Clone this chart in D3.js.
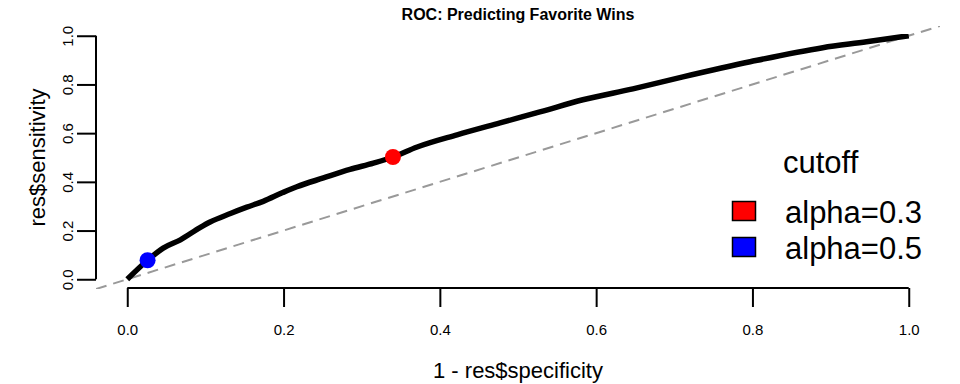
<!DOCTYPE html>
<html>
<head>
<meta charset="utf-8">
<script src="https://cdn.jsdelivr.net/npm/d3@7"></script>
<style>
  body { margin: 0; background: #fff; }
  text { font-family: "Liberation Sans", Arial, Helvetica, sans-serif; fill: #000; }
</style>
</head>
<body>
<div id="chart"></div>
<script>
// ROC curve (1 - specificity, sensitivity)
const fpr = [0, 0.026, 0.046, 0.068, 0.093, 0.106, 0.132, 0.153, 0.174, 0.199, 0.217, 0.251, 0.285, 0.315, 0.340, 0.371, 0.422, 0.477, 0.528, 0.583, 0.647, 0.711, 0.797, 0.890, 0.946, 1];
const tpr = [0, 0.078, 0.128, 0.162, 0.212, 0.235, 0.270, 0.296, 0.320, 0.356, 0.380, 0.416, 0.451, 0.477, 0.502, 0.543, 0.593, 0.642, 0.687, 0.737, 0.782, 0.831, 0.893, 0.951, 0.975, 1];

// Cutoff points
const cutoffLabels = ["alpha=0.3", "alpha=0.5"];
const cutoffFpr = [0.340, 0.026];
const cutoffTpr = [0.502, 0.078];
const cutoffColors = ["#ff0000", "#0000ff"];

const tickValues = [0, 0.2, 0.4, 0.6, 0.8, 1.0];
const axisDomain = [-0.04, 1.04];

const width = 960, height = 384;
const plot = { left: 96, right: 940, top: 26, bottom: 289 };

const svg = d3.select("#chart").append("svg")
    .attr("width", width)
    .attr("height", height);

const x = d3.scaleLinear().domain(axisDomain).range([plot.left, plot.right]);
const y = d3.scaleLinear().domain(axisDomain).range([plot.bottom, plot.top]);

// clip for the plot region
svg.append("clipPath").attr("id", "clip")
    .append("rect")
    .attr("x", plot.left).attr("y", plot.top)
    .attr("width", plot.right - plot.left)
    .attr("height", plot.bottom - plot.top);

// Title
svg.append("text")
    .attr("x", (plot.left + plot.right) / 2)
    .attr("y", 20)
    .attr("text-anchor", "middle")
    .style("font-size", "16px")
    .style("font-weight", "bold")
    .text("ROC: Predicting Favorite Wins");

// diagonal reference (abline 0,1)
svg.append("line")
    .attr("clip-path", "url(#clip)")
    .attr("x1", x(axisDomain[0])).attr("y1", y(axisDomain[0]))
    .attr("x2", x(axisDomain[1])).attr("y2", y(axisDomain[1]))
    .style("stroke", "#999")
    .style("stroke-width", 2)
    .style("stroke-dasharray", "11,7");

// ROC line
const pts = fpr.map((d, i) => [d, tpr[i]]);
svg.append("path")
    .datum(pts)
    .attr("clip-path", "url(#clip)")
    .attr("d", d3.line().x(d => x(d[0])).y(d => y(d[1])).curve(d3.curveMonotoneX))
    .style("fill", "none")
    .style("stroke", "#000")
    .style("stroke-width", 5.5)
    .style("stroke-linecap", "butt")
    .style("stroke-linejoin", "round");

// cutoff points
svg.append("g").selectAll("circle")
    .data(cutoffLabels)
    .enter()
    .append("circle")
    .attr("cx", (d, i) => x(cutoffFpr[i]))
    .attr("cy", (d, i) => y(cutoffTpr[i]))
    .attr("r", 8)
    .style("fill", (d, i) => cutoffColors[i]);

// x axis
const xAxis = svg.append("g")
    .attr("transform", `translate(0,${plot.bottom - 1})`)
    .call(d3.axisBottom(x).tickValues(tickValues).tickSize(19).tickPadding(17.5)
        .tickFormat(d3.format(".1f")));
xAxis.select(".domain").remove();
xAxis.append("line")
    .attr("x1", x(0)).attr("x2", x(1))
    .style("stroke", "#000").style("stroke-width", 2);
xAxis.selectAll(".tick line").style("stroke-width", 2);
xAxis.selectAll("text").style("font-size", "15px")
    .attr("font-family", null);

// y axis
const yAxis = svg.append("g")
    .attr("transform", `translate(${plot.left},0)`)
    .call(d3.axisLeft(y).tickValues(tickValues).tickSize(19)
        .tickFormat(d3.format(".1f")));
yAxis.select(".domain").remove();
yAxis.append("line")
    .attr("y1", y(0)).attr("y2", y(1))
    .style("stroke", "#000").style("stroke-width", 2);
yAxis.selectAll(".tick line").style("stroke-width", 2);
yAxis.selectAll("text")
    .attr("x", 0).attr("dy", 0)
    .attr("text-anchor", "middle")
    .attr("transform", "translate(-23,0) rotate(-90)")
    .attr("font-family", null)
    .style("font-size", "15px");

// axis titles
svg.append("text")
    .attr("x", (plot.left + plot.right) / 2)
    .attr("y", 378)
    .attr("text-anchor", "middle")
    .style("font-size", "22px")
    .text("1 - res$specificity");

svg.append("text")
    .attr("transform", `translate(45,${(plot.top + plot.bottom) / 2}) rotate(-90)`)
    .attr("text-anchor", "middle")
    .style("font-size", "22px")
    .text("res$sensitivity");

// legend
const legend = svg.append("g");
legend.append("text")
    .attr("x", 783).attr("y", 173)
    .style("font-size", "31px")
    .text("cutoff");

const item = legend.selectAll("g.item")
    .data(cutoffLabels)
    .enter()
    .append("g")
    .attr("class", "item")
    .attr("transform", (d, i) => `translate(0,${223 + i * 36})`);
item.append("rect")
    .attr("x", 732.5).attr("y", -21.5)
    .attr("width", 23).attr("height", 19)
    .style("fill", (d, i) => cutoffColors[i])
    .style("stroke", "#000")
    .style("stroke-width", 1.5);
item.append("text")
    .attr("x", 785).attr("y", 0)
    .style("font-size", "31px")
    .text(d => d);
</script>
</body>
</html>
